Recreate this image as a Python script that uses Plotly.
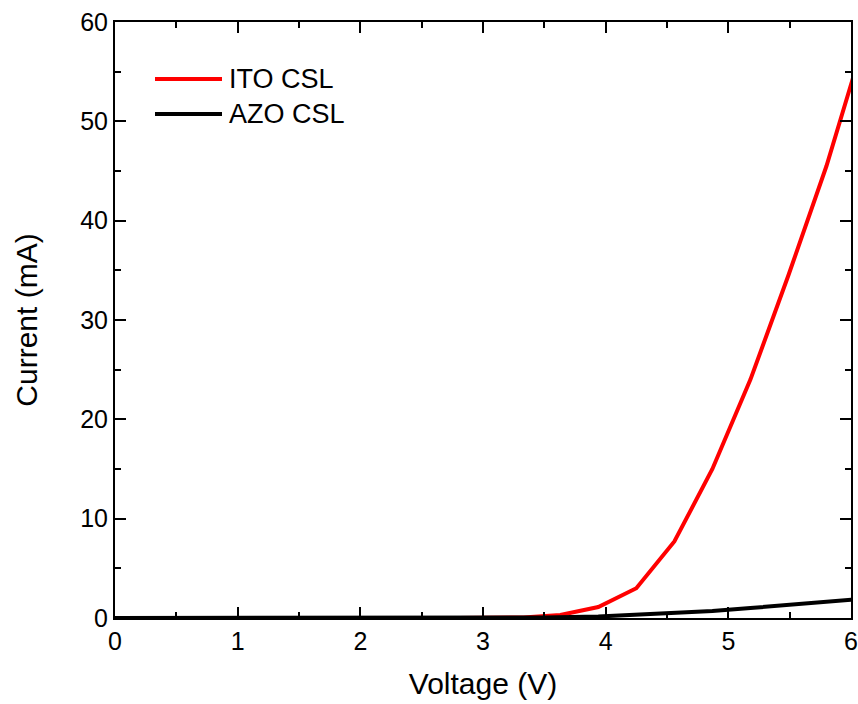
import plotly.graph_objects as go

# ---- data ----
ito_voltage = [2.8, 3.02, 3.33, 3.63, 3.94, 4.25, 4.56, 4.87, 5.18, 5.49, 5.80, 6.11]
ito_current = [0.0, 0.01, 0.05, 0.3, 1.1, 3.0, 7.7, 15.0, 24.0, 34.5, 45.5, 58.2]

azo_voltage = [0.0, 3.0, 3.5, 3.94, 4.25, 4.56, 4.87, 5.18, 5.49, 5.80, 6.11]
azo_current = [0.0, 0.0, 0.05, 0.15, 0.3, 0.47, 0.7, 1.0, 1.3, 1.6, 1.95]

series_names = ["ITO CSL", "AZO CSL"]
series_colors = ["#ff0000", "#000000"]

x_title = "Voltage (V)"
y_title = "Current (mA)"

FONT = "Arial, Liberation Sans, sans-serif"

fig = go.Figure()
fig.add_trace(go.Scatter(x=ito_voltage, y=ito_current, mode="lines",
                         name=series_names[0],
                         line=dict(color=series_colors[0], width=4),
                         showlegend=False))
fig.add_trace(go.Scatter(x=azo_voltage, y=azo_current, mode="lines",
                         name=series_names[1],
                         line=dict(color=series_colors[1], width=4),
                         showlegend=False))

# plot area in pixels: x 115..851, y 22..618
L, R, T, B = 115, 851, 22, 618
W, H = 858, 704

def px2paper(px, py):
    return (px - L) / (R - L), (B - py) / (B - T)

# manual legend
legend_rows = [79, 114]
for name, color, py in zip(series_names, series_colors, legend_rows):
    x0, y0 = px2paper(155, py)
    x1, _ = px2paper(222, py)
    fig.add_shape(type="line", xref="paper", yref="paper",
                  x0=x0, x1=x1, y0=y0, y1=y0,
                  line=dict(color=color, width=4))
    tx, _ = px2paper(227, py)
    fig.add_annotation(xref="paper", yref="paper", x=tx, y=y0,
                       text=name, showarrow=False, xanchor="left",
                       yanchor="middle",
                       font=dict(family=FONT, size=27, color="#000000"))

axis_common = dict(
    showline=True, linecolor="#000000", linewidth=2, mirror="allticks",
    ticks="inside", ticklen=11, tickwidth=2, tickcolor="#000000",
    showgrid=False, zeroline=False, automargin=False,
    tickfont=dict(family=FONT, size=25, color="#000000"),
)

fig.update_xaxes(
    range=[0, 6], dtick=1, tick0=0,
    minor=dict(ticks="inside", ticklen=6, tickwidth=2, tickcolor="#000000",
               dtick=0.5, showgrid=False),
    title=dict(text=x_title, font=dict(family=FONT, size=30, color="#000000"),
               standoff=19),
    **axis_common,
)
fig.update_yaxes(
    range=[0, 60], dtick=10, tick0=0,
    minor=dict(ticks="inside", ticklen=6, tickwidth=2, tickcolor="#000000",
               dtick=5, showgrid=False),
    title=dict(text=y_title, font=dict(family=FONT, size=30, color="#000000"),
               standoff=34),
    **axis_common,
)

fig.update_layout(
    width=W, height=H,
    margin=dict(l=L, r=W - R, t=T, b=H - B, pad=0),
    plot_bgcolor="#ffffff", paper_bgcolor="#ffffff",
    font=dict(family=FONT, color="#000000"),
)

fig.write_html("out.html")
